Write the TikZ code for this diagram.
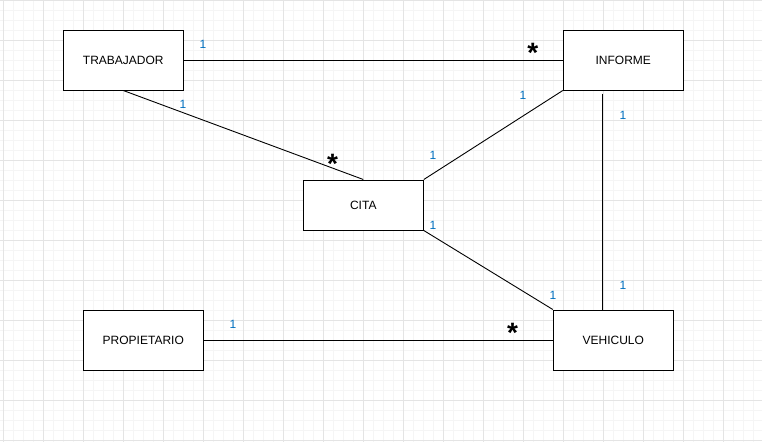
\documentclass[tikz,border=0pt]{standalone}
\usepackage{fontspec}
\setmainfont{Liberation Sans}
\usetikzlibrary{calc}
\definecolor{gridmajor}{RGB}{228,228,228}
\definecolor{gridminor}{RGB}{245,245,245}
\definecolor{mult}{RGB}{0,112,192}
\tikzset{
  entity/.style={draw=black, line width=1pt, fill=white, rectangle, minimum width=120pt, inner sep=0pt, font=\fontsize{12}{14}\selectfont},
  tall/.style={minimum height=60pt},
  short/.style={minimum height=50pt},
  link/.style={draw=black, line width=0.9pt},
  one/.style={text=mult, inner sep=0pt, font=\fontsize{12}{14}\selectfont},
  many/.style={text=black, inner sep=0pt, anchor=north, font=\fontsize{28}{30}\selectfont\bfseries}
}
\begin{document}
\begin{tikzpicture}[x=1pt, y=-1pt]
\useasboundingbox (0,0) rectangle (762,442);
\fill[white] (0,0) rectangle (762,442);
% grid
\foreach \i in {0,...,76} { \draw[gridminor, line width=0.8pt] (3+10*\i,0) -- (3+10*\i,442); }
\foreach \j in {0,...,44} { \draw[gridminor, line width=0.8pt] (0,10*\j) -- (762,10*\j); }
\foreach \i in {0,...,19} { \draw[gridmajor, line width=0.9pt] (3+40*\i,0) -- (3+40*\i,442); }
\foreach \j in {0,...,11} { \draw[gridmajor, line width=0.9pt] (0,40*\j) -- (762,40*\j); }
\coordinate (tc) at (123.3,60);
\coordinate (ic) at (623.3,60);
\coordinate (cc) at (363.3,205);
\coordinate (pc) at (143.3,340);
\coordinate (vc) at (613.3,340);
\node[entity, tall] (trab) at (tc) {TRABAJADOR};
\node[entity, tall] (inf) at (ic) {INFORME};
\node[entity, short] (cita) at (cc) {CITA};
\node[entity, tall] (prop) at (pc) {PROPIETARIO};
\node[entity, tall] (veh) at (vc) {VEHICULO};
\draw[link] (trab.east) -- (inf.west);
\draw[link] (trab.south) -- (cita.north);
\draw[link] (cita.north east) -- (inf.south west);
\draw[link] (cita.south east) -- (veh.north west);
\draw[link] ([xshift=40pt,yshift=-3pt]inf.south west) -- ([xshift=50pt]veh.north west);
\draw[link] (prop.east) -- (veh.west);
% multiplicities
\node[one] (m1) at (203,44.5) {1};
\node[many] (s1) at (532.7,42.7) {*};
\node[one] (m2) at (183,104.5) {1};
\node[many] (s2) at (332.5,154) {*};
\node[one] (m3) at (523,95.5) {1};
\node[one] (m4) at (433,155.5) {1};
\node[one] (m5) at (433,225.5) {1};
\node[one] (m6) at (623,115.5) {1};
\node[one] (m7) at (623,285.5) {1};
\node[one] (m8) at (553,295) {1};
\node[many] (s3) at (512.5,323) {*};
\node[one] (m9) at (233,324.5) {1};
\end{tikzpicture}
\end{document}
